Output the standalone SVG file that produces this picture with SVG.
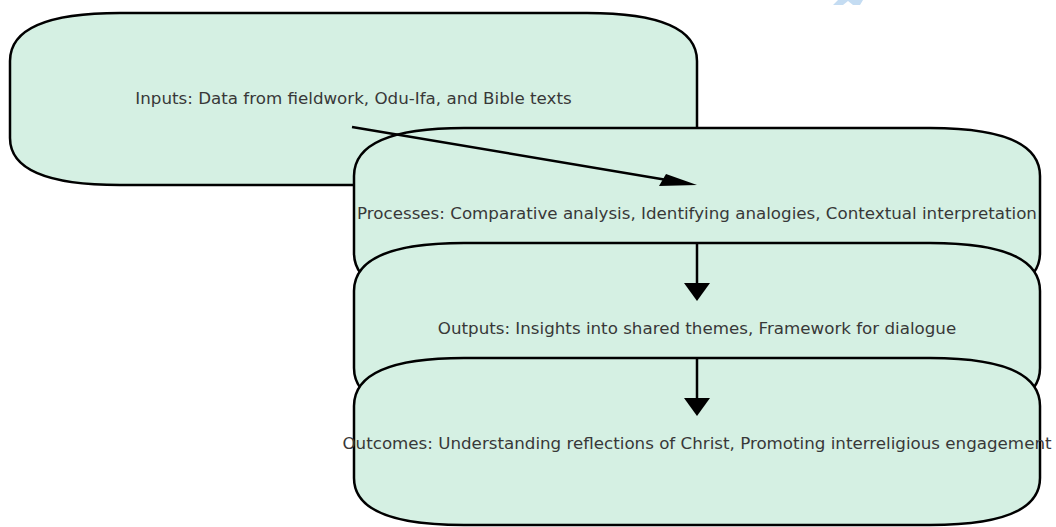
<svg xmlns="http://www.w3.org/2000/svg" width="1056" height="527" viewBox="0 0 1056 527">
<style>
.box{fill:#d5f0e3;stroke:#000;stroke-width:2.5}
.lbl{font-family:"DejaVu Sans","Liberation Sans",sans-serif;font-size:16.7px;fill:#383838;text-anchor:middle}
.edge{stroke:#000;stroke-width:2.5;fill:none}
.head{fill:#000;stroke:none}
</style>
<rect width="1056" height="527" fill="#fff"/>
<polygon points="833,5 838,0 863,0 860,5 853,5 848,1 843,5" fill="#c4dcf2"/>
<g id="node-inputs">
<path class="box" d="M120,13 H587 Q697,13 697,61 V138 Q697,185 587,185 H120 Q10,185 10,138 V61 Q10,13 120,13 Z"/>
<text class="lbl" x="353.5" y="104">Inputs: Data from fieldwork, Odu-Ifa, and Bible texts</text>
</g>
<g id="node-processes">
<path class="box" d="M464,128 H930 Q1040,128 1040,176 V253 Q1040,300 930,300 H464 Q354,300 354,253 V176 Q354,128 464,128 Z"/>
<text class="lbl" x="697" y="219">Processes: Comparative analysis, Identifying analogies, Contextual interpretation</text>
</g>
<g id="node-outputs">
<path class="box" d="M464,243 H930 Q1040,243 1040,291 V368 Q1040,415 930,415 H464 Q354,415 354,368 V291 Q354,243 464,243 Z"/>
<text class="lbl" x="697" y="334">Outputs: Insights into shared themes, Framework for dialogue</text>
</g>
<g id="node-outcomes">
<path class="box" d="M464,358 H930 Q1040,358 1040,406 V478 Q1040,525 930,525 H464 Q354,525 354,478 V406 Q354,358 464,358 Z"/>
<text class="lbl" x="697" y="449">Outcomes: Understanding reflections of Christ, Promoting interreligious engagement</text>
</g>
<g id="connectors">
<line class="edge" x1="352" y1="127" x2="670" y2="180.5"/>
<polygon class="head" points="697,185 659,186 666,174"/>
<line class="edge" x1="697" y1="243" x2="697" y2="285"/>
<polygon class="head" points="697,301 684,283 710,283"/>
<line class="edge" x1="697" y1="358" x2="697" y2="400"/>
<polygon class="head" points="697,416 684,398 710,398"/>
</g>
</svg>
